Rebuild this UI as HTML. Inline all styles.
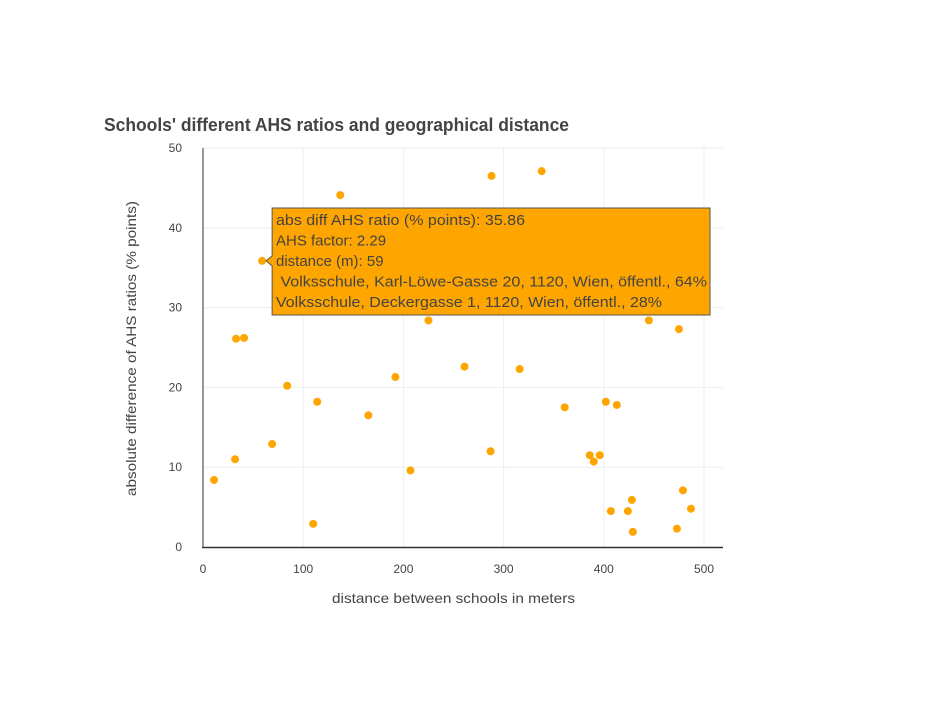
<!DOCTYPE html>
<html><head><meta charset="utf-8"><style>
body{margin:0;background:#fff;width:925px;height:710px;overflow:hidden}
svg text{font-family:"Liberation Sans Narrow","Liberation Sans",sans-serif;fill:#444}
</style></head><body>
<svg id="chart" width="925" height="710">
<text x="104" y="131" font-size="18" font-weight="bold" fill="#333" textLength="465" lengthAdjust="spacingAndGlyphs">Schools' different AHS ratios and geographical distance</text>
<g id="grid"></g><g id="axes"></g><g id="pts"></g><g id="tip"></g>
</svg>
<script>
const distances=[11,32,33,41,59,69,84,110,114,137,165,192,207,225,261,287,288,316,338,361,386,390,396,402,407,413,424,428,429,445,473,475,479,487];
const ratios=[8.4,11.0,26.1,26.2,35.86,12.9,20.2,2.9,18.2,44.1,16.5,21.3,9.6,28.4,22.6,12.0,46.5,22.3,47.1,17.5,11.5,10.7,11.5,18.2,4.5,17.8,4.5,5.9,1.9,28.4,2.3,27.3,7.1,4.8];
const xTicks=[0,100,200,300,400,500];
const yTicks=[0,10,20,30,40,50];
const NS="http://www.w3.org/2000/svg";
const X=v=>203+v*1.002, Y=v=>547-v*7.98;
function mk(t,a,p){const e=document.createElementNS(NS,t);for(const k in a)e.setAttribute(k,a[k]);p.appendChild(e);return e;}
const g=document.getElementById('grid'),ax=document.getElementById('axes'),pts=document.getElementById('pts'),tip=document.getElementById('tip');
xTicks.forEach(t=>{if(t>0){const l=mk('line',{x1:X(t),x2:X(t),y1:148,y2:547,stroke:'#eee'},g);

}
const tx=mk('text',{x:X(t),y:573,'font-size':12,'text-anchor':'middle'},ax);tx.textContent=t;

});
yTicks.forEach(t=>{if(t>0){const l=mk('line',{x1:203,x2:723,y1:Y(t),y2:Y(t),stroke:'#eee'},g);

}
const tx=mk('text',{x:182,y:Y(t)+4,'font-size':12,'text-anchor':'end'},ax);tx.textContent=t;

});
const ya=mk('line',{x1:203,x2:203,y1:148,y2:548,stroke:'#333','stroke-width':1},ax);


const xa=mk('line',{x1:202,x2:723,y1:547.5,y2:547.5,stroke:'#333','stroke-width':1.5},ax);


const xt=mk('text',{x:332,y:603,'font-size':14,textLength:243,lengthAdjust:'spacingAndGlyphs'},ax);xt.textContent='distance between schools in meters';


const yt=mk('text',{x:-148,y:0,'font-size':14,textLength:295,lengthAdjust:'spacingAndGlyphs',transform:'translate(136,348) rotate(-90)'},ax);yt.textContent='absolute difference of AHS ratios (% points)';


distances.forEach((d,i)=>{const c=mk('circle',{cx:X(d),cy:Y(ratios[i]),r:4,fill:'#FFA500'},pts);

});
const px=X(distances[4]),py=Y(ratios[4]);
const tb=mk('path',{d:`M${px+4},${py} L${px+10},${py-5} L${px+10},208 L710,208 L710,315 L${px+10},315 L${px+10},${py+5} Z`,fill:'#FFA500',stroke:'#555','stroke-width':1},tip);


const lines=['abs diff AHS ratio (% points): 35.86','AHS factor: 2.29','distance (m): 59',' Volksschule, Karl-Löwe-Gasse 20, 1120, Wien, öffentl., 64%','Volksschule, Deckergasse 1, 1120, Wien, öffentl., 28%'];
const widths=[249,0,0,431,386];
lines.forEach((s,i)=>{const a={x:276,y:225+i*20.5,'font-size':15,style:'font-family:"Liberation Sans",sans-serif;white-space:pre'};
if(widths[i]){a.textLength=widths[i];a.lengthAdjust='spacingAndGlyphs';}
const t=mk('text',a,tip);t.textContent=s;

});
</script>
</body></html>
